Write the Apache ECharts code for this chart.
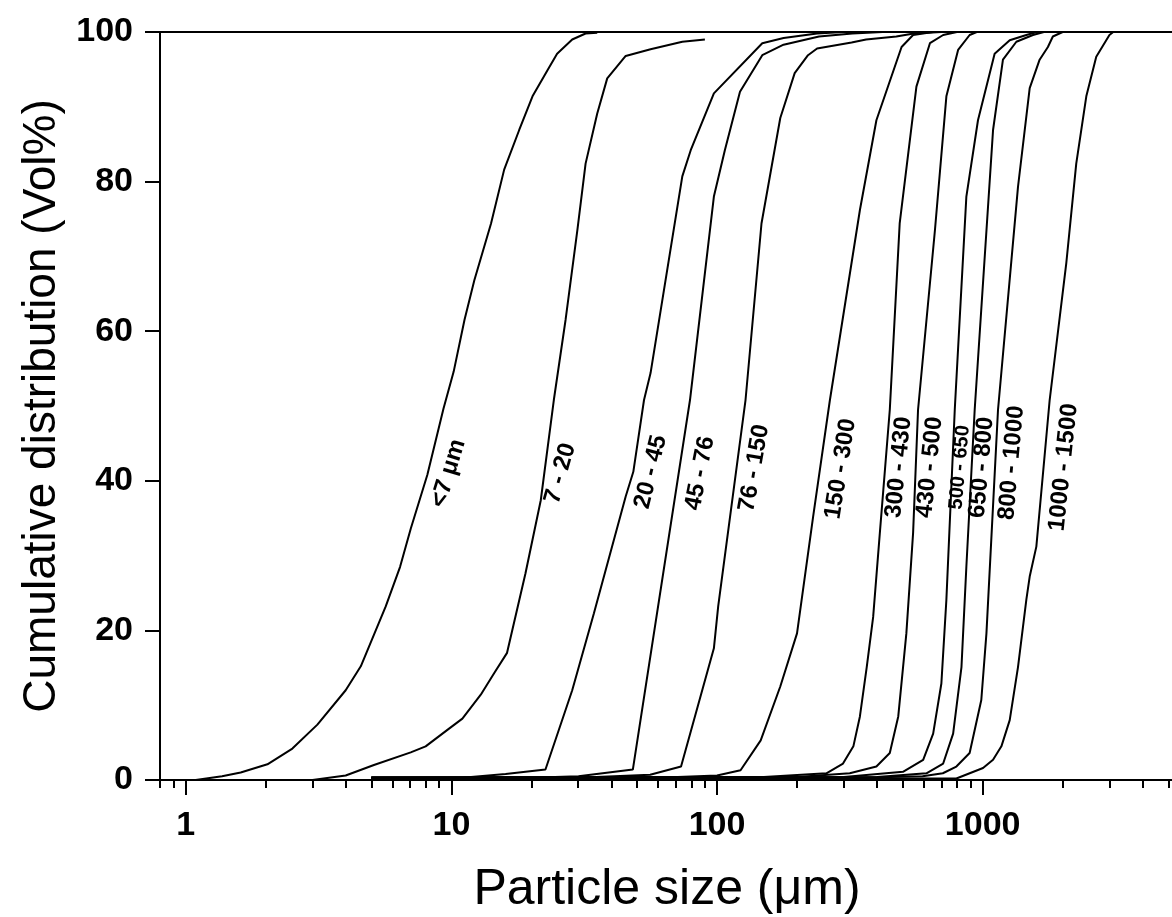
<!DOCTYPE html>
<html>
<head>
<meta charset="utf-8">
<script src="https://cdn.jsdelivr.net/npm/echarts@6/dist/echarts.min.js"></script>
<style>
  html, body { margin: 0; padding: 0; background: #fff; }
  #chart { width: 1172px; height: 917px; }
</style>
</head>
<body>
<div id="chart"></div>
<script>
// sieve fractions, one cumulative curve each: [particle size um, cumulative vol%]
var fractionNames = ["<7 \u03bcm", "7 - 20", "20 - 45", "45 - 76", "76 - 150", "150 - 300",
  "300 - 430", "430 - 500", "500 - 650", "650 - 800", "800 - 1000", "1000 - 1500"];

var lt7 = [[1.09, 0], [1.37, 0.5], [1.61, 1.0], [2.03, 2.1], [2.52, 4.2], [3.13, 7.4], [4.0, 12.0],
  [4.56, 15.2], [5.66, 23.2], [6.41, 28.5], [7.03, 33.6], [8.12, 40.8], [9.33, 49.6], [10.2, 54.6],
  [11.2, 61.5], [12.2, 66.8], [14.1, 74.4], [15.8, 81.6], [18.0, 86.9], [20.2, 91.4], [23.0, 94.9],
  [25.0, 97.1], [28.5, 99.0], [32.0, 99.8], [35.4, 99.9]];
var f7_20 = [[3.0, 0], [4.0, 0.6], [5.11, 2.0], [7.03, 3.7], [8.0, 4.5], [9.66, 6.7], [11.0, 8.2],
  [12.9, 11.4], [14.5, 14.3], [16.2, 17.0], [19.0, 27.6], [21.7, 37.4], [24.3, 50.8], [26.9, 61.5],
  [29.8, 73.5], [32.0, 82.4], [35.4, 89.1], [38.6, 93.8], [45.3, 96.8], [56.2, 97.7], [74.0, 98.7],
  [90.0, 99.0]];
var f20_45 = [[5, 0.3], [11, 0.3], [16, 0.8], [22.6, 1.4], [28.5, 12.0], [34.4, 22.3], [45.3, 37.9],
  [48.4, 41.2], [53.1, 50.8], [56.2, 54.4], [74.0, 80.7], [79.6, 84.2], [97.3, 91.8], [148, 98.5],
  [178, 99.2], [238, 99.8], [300, 100]];
var f45_76 = [[5, 0.3], [20, 0.3], [30.1, 0.5], [48.2, 1.4], [79.1, 50.8], [97.3, 78.0], [107, 84.2],
  [122, 92.0], [148, 96.9], [178, 98.3], [242, 99.4], [323, 99.8], [420, 100]];
var f76_150 = [[5, 0.3], [30, 0.3], [56, 0.7], [73.2, 1.8], [97.3, 17.6], [101, 23.2], [128, 50.8],
  [147, 74.4], [173, 88.5], [196, 94.5], [220, 96.9], [238, 97.8], [321, 98.6], [364, 99.0],
  [473, 99.4], [550, 99.8], [700, 100]];
var f150_300 = [[5, 0.3], [60, 0.3], [100, 0.6], [122.6, 1.3], [146, 5.3], [173, 12.5], [200, 19.6],
  [230, 35.2], [266, 50.8], [345, 76.2], [398, 88.2], [495, 98.0], [547, 99.6], [650, 100]];
var f300_430 = [[5, 0.3], [150, 0.4], [258, 0.9], [298, 2.2], [326, 4.5], [345, 8.5], [366, 15.1],
  [387, 21.8], [410, 33.0], [447, 49.5], [487, 74.4], [563, 92.7], [633, 98.5], [710, 99.6], [800, 100]];
var f430_500 = [[5, 0.3], [200, 0.4], [316, 0.9], [398, 1.8], [447, 3.6], [481, 8.5], [516, 19.6],
  [547, 33.0], [571, 49.5], [661, 73.5], [730, 91.4], [808, 97.6], [893, 99.6], [950, 100]];
var f500_650 = [[5, 0.3], [300, 0.4], [501, 1.1], [597, 2.7], [651, 6.2], [699, 12.9], [730, 24.1],
  [785, 49.5], [868, 78.0], [960, 88.2], [1109, 97.1], [1264, 98.9], [1460, 99.6], [1600, 100]];
var f650_800 = [[5, 0.3], [400, 0.4], [614, 0.9], [710, 2.2], [774, 6.2], [832, 15.1], [868, 28.5],
  [933, 49.5], [1094, 86.9], [1192, 96.3], [1339, 98.7], [1546, 99.6], [1700, 100]];
var f800_1000 = [[5, 0.3], [450, 0.4], [594, 0.5], [708, 0.9], [796, 1.8], [893, 3.6], [988, 10.7],
  [1033, 19.6], [1142, 49.5], [1358, 79.3], [1503, 92.5], [1638, 96.3], [1760, 98.0], [1837, 99.4], [2000, 100]];
var f1000_1500 = [[5, 0.2], [600, 0.2], [796, 0.2], [1003, 1.6], [1094, 2.7], [1176, 4.5], [1264, 8.0],
  [1358, 15.1], [1460, 24.1], [1503, 27.2], [1592, 31.2], [1787, 50.8], [2064, 69.1], [2250, 82.4],
  [2455, 91.4], [2676, 96.7], [3000, 99.6], [3100, 100]];

var curves = [lt7, f7_20, f20_45, f45_76, f76_150, f150_300, f300_430, f430_500, f500_650,
  f650_800, f800_1000, f1000_1500];

// where each curve's name sits (size, vol%) and its slant
var labelSize = [9.74, 25.7, 56.3, 86.3, 138, 292, 483, 632, 820, 991, 1285, 2017];
var labelCum = [41.0, 41.0, 41.2, 41.0, 41.7, 41.6, 41.8, 41.8, 41.8, 41.8, 42.4, 41.8];
var labelAngle = [73, 74, 76, 79, 80, 81, 84, 84, 85, 85, 85, 84];
var labelFont = [24, 24, 24, 24, 24, 24, 24, 24, 20, 24, 24, 24];

var majorTicks = [1, 10, 100, 1000];
var minorTicks = [0.8, 0.9, 2, 3, 4, 5, 6, 7, 8, 9, 20, 30, 40, 50, 60, 70, 80, 90,
  200, 300, 400, 500, 600, 700, 800, 900, 2000, 3000, 4000, 5000];

var FONT = "'Liberation Sans', Arial, Helvetica, sans-serif";
var myChart = echarts.init(document.getElementById("chart"));

var series = curves.map(function (pts, i) {
  return {
    name: fractionNames[i],
    type: "line",
    data: pts,
    symbol: "none",
    silent: true,
    lineStyle: { color: "#000", width: 2 },
    markPoint: {
      symbol: "rect",
      symbolSize: 1,
      itemStyle: { color: "rgba(0,0,0,0)" },
      label: {
        show: true,
        position: "inside",
        formatter: fractionNames[i],
        rotate: labelAngle[i],
        color: "#000",
        fontSize: labelFont[i],
        fontWeight: "bold",
        fontFamily: FONT
      },
      data: [{ coord: [labelSize[i], labelCum[i]] }]
    }
  };
});

myChart.setOption({
  animation: false,
  backgroundColor: "#fff",
  grid: {
    left: 160,
    right: -2,
    top: 32,
    bottom: 137,
    outerBoundsMode: "none",
    show: true,
    borderColor: "#000",
    borderWidth: 2
  },
  xAxis: [
    {
      type: "log",
      logBase: 10,
      min: 0.8,
      max: 5250,
      position: "bottom",
      name: "Particle size (\u03bcm)",
      nameLocation: "middle",
      nameGap: 85,
      nameTextStyle: { color: "#000", fontSize: 50, fontFamily: FONT },
      axisLine: { show: true, onZero: false, lineStyle: { color: "#000", width: 2 } },
      axisTick: { show: true, customValues: majorTicks, length: 15, lineStyle: { color: "#000", width: 2 } },
      axisLabel: {
        customValues: majorTicks,
        margin: 29,
        color: "#000",
        fontSize: 34,
        fontWeight: "bold",
        fontFamily: FONT,
        formatter: function (v) { return String(Math.round(v)); }
      },
      splitLine: { show: false }
    },
    {
      // minor ticks only, pushed down onto the bottom axis line
      type: "log",
      logBase: 10,
      min: 0.8,
      max: 5250,
      position: "top",
      offset: -748,
      axisLine: { show: false, onZero: false },
      axisTick: { show: true, inside: true, customValues: minorTicks, length: 8, lineStyle: { color: "#000", width: 2 } },
      axisLabel: { show: false, customValues: minorTicks },
      splitLine: { show: false }
    }
  ],
  yAxis: {
    type: "value",
    min: 0,
    max: 100,
    interval: 20,
    name: "Cumulative distribution (Vol%)",
    nameLocation: "middle",
    nameGap: 95,
    nameTextStyle: { color: "#000", fontSize: 46, fontFamily: FONT },
    axisLine: { show: true, onZero: false, lineStyle: { color: "#000", width: 2 } },
    axisTick: { show: true, length: 15, lineStyle: { color: "#000", width: 2 } },
    axisLabel: { margin: 27, color: "#000", fontSize: 34, fontWeight: "bold", fontFamily: FONT },
    splitLine: { show: false }
  },
  series: series
});
</script>
</body>
</html>
